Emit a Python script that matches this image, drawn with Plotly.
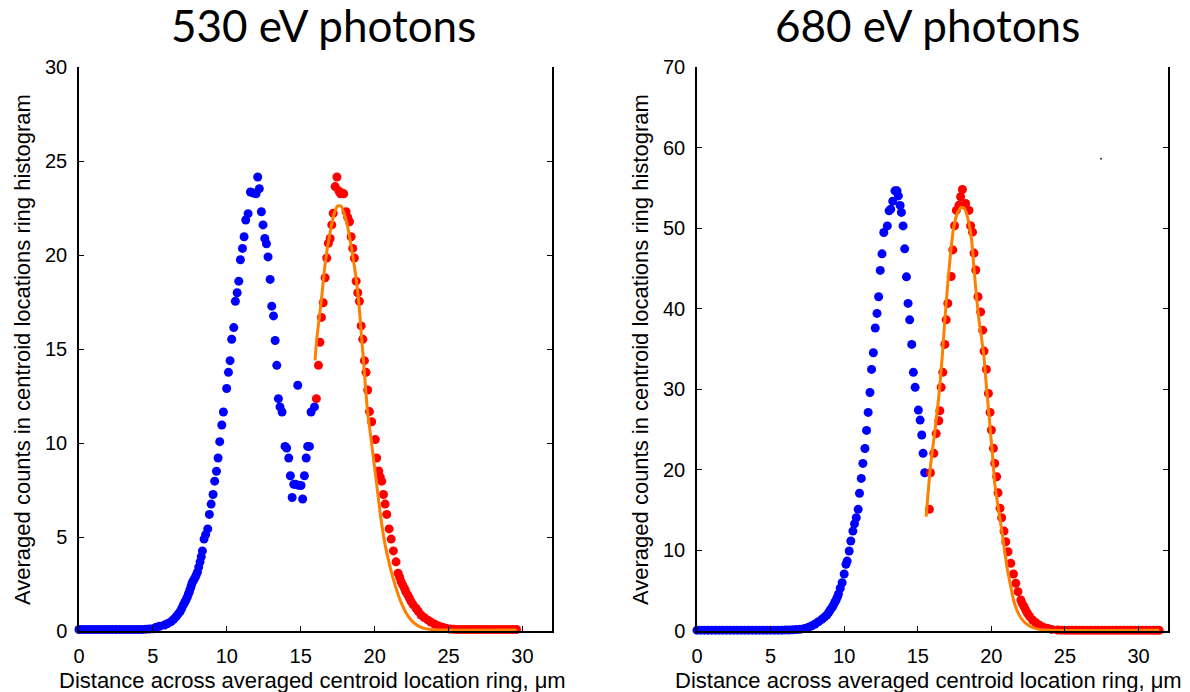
import plotly.graph_objects as go

# ---------------- 530 eV panel ----------------
l_blue_x = [0.0, 0.25, 0.5, 0.75, 1.0, 1.25, 1.5, 1.75, 2.0, 2.25, 2.5, 2.75, 3.0, 3.25, 3.5, 3.75,
            4.0, 4.25, 4.5, 4.75, 5.0, 5.22, 5.45, 5.78, 6.0, 6.23, 6.4, 6.57, 6.7, 6.84, 6.95, 7.06,
            7.15, 7.24, 7.32, 7.40, 7.47, 7.54, 7.6, 7.67, 7.75, 7.83, 7.92, 8.01, 8.1, 8.19, 8.27,
            8.35, 8.46, 8.57, 8.71, 8.82, 8.94, 9.07, 9.18, 9.30, 9.41, 9.52, 9.66, 9.77, 9.99, 10.11,
            10.22, 10.33, 10.47, 10.58, 10.70, 10.81, 10.92, 11.06, 11.17, 11.28, 11.44, 11.60, 11.78,
            11.98, 12.09, 12.20, 12.34, 12.45, 12.57, 12.68, 12.79, 12.93, 13.04, 13.16, 13.27, 13.38,
            13.49, 13.60, 13.74, 13.94, 14.05, 14.19, 14.30, 14.42, 14.53, 14.65, 14.80, 14.86, 15.02,
            15.13, 15.25, 15.37, 15.47, 15.59, 15.70, 15.93]
l_blue_y = [0.08, 0.08, 0.08, 0.08, 0.08, 0.08, 0.08, 0.08, 0.08, 0.08, 0.08, 0.08, 0.08, 0.08, 0.08, 0.08,
            0.08, 0.08, 0.09, 0.1, 0.12, 0.2, 0.25, 0.32, 0.4, 0.5, 0.62, 0.76, 0.9, 1.03, 1.2, 1.39,
            1.52, 1.65, 1.8, 1.97, 2.1, 2.27, 2.42, 2.59, 2.7, 2.81, 2.95, 3.13, 3.4, 3.68, 3.95,
            4.26, 4.89, 5.13, 5.43, 6.2, 6.75, 7.26, 7.97, 8.5, 9.2, 10.07, 10.96, 11.65, 12.9, 13.76,
            14.38, 15.52, 16.14, 17.54, 17.99, 18.61, 19.75, 20.35, 20.97, 21.86, 22.2, 23.35, 23.3,
            23.26, 24.15, 23.53, 22.3, 21.6, 20.88, 20.6, 19.9, 18.7, 17.28, 16.76, 15.45, 14.13,
            12.36, 11.92, 11.65, 9.82, 9.73, 9.2, 8.26, 7.1, 7.8, 7.8, 13.07, 7.75, 7.74,
            7.02, 8.26, 9.2, 9.82, 9.82, 11.65, 11.92]

l_red_x = [16.06, 16.20, 16.30, 16.40, 16.52, 16.65, 16.76, 16.87, 16.99, 17.10, 17.20, 17.33, 17.45,
           17.58, 17.69, 17.80, 17.91, 18.07, 18.18, 18.30, 18.41, 18.52, 18.63, 18.75, 18.86, 18.97,
           19.09, 19.20, 19.31, 19.42, 19.53, 19.65, 19.80, 20.05, 20.14, 20.28, 20.38, 20.48, 20.60,
           20.71, 20.82, 20.98, 21.12, 21.27, 21.45, 21.59, 21.70, 21.79, 21.90, 22.02, 22.10, 22.24,
           22.35, 22.47, 22.60, 22.80, 22.95, 23.14, 23.35, 23.59, 23.80, 24.05, 24.30, 24.60, 24.85,
           25.1, 25.35, 25.6, 25.85, 26.1, 26.35, 26.6, 26.85, 27.1, 27.35, 27.6, 27.85, 28.1, 28.35,
           28.6, 28.85, 29.1, 29.35, 29.6]
l_red_y = [12.36, 14.13, 15.36, 16.68, 17.46, 18.79, 19.84, 20.62, 20.88, 21.6, 22.22, 23.64, 24.15,
           23.4, 23.26, 23.3, 23.26, 22.3, 22.0, 21.77, 20.97, 20.35, 19.84, 18.61, 17.99, 17.54,
           16.23, 15.52, 14.38, 13.76, 12.82, 11.67, 11.13, 10.18, 9.2, 8.51, 8.2, 7.97, 7.26,
           6.75, 6.2, 5.43, 4.89, 4.26, 3.68, 3.07, 2.85, 2.63, 2.45, 2.27, 2.1, 1.92,
           1.75, 1.56, 1.4, 1.21, 1.05, 0.85, 0.72, 0.59, 0.48, 0.37, 0.28, 0.2, 0.14,
           0.1, 0.09, 0.08, 0.08, 0.08, 0.08, 0.08, 0.08, 0.08, 0.08, 0.08, 0.08, 0.08, 0.08,
           0.08, 0.08, 0.08, 0.08, 0.08]

l_fit_x = [15.97, 16.08, 16.27, 16.45, 16.60, 16.83, 17.06, 17.28, 17.50, 17.73, 17.96, 18.18, 18.41,
           18.63, 18.82, 18.97, 19.09, 19.24, 19.38, 19.53, 19.76, 19.99, 20.21, 20.44, 20.73, 21.05,
           21.40, 21.75, 22.10, 22.50, 23.00, 23.60, 24.50, 29.60]
l_fit_y = [14.4, 15.5, 16.75, 18.0, 19.2, 20.5, 21.5, 22.25, 22.6, 22.6, 22.15, 21.5, 20.5,
           19.4, 18.3, 17.1, 15.9, 14.45, 13.0, 11.6, 10.2, 8.75, 7.35, 5.9, 4.5, 3.4,
           2.4, 1.6, 1.0, 0.55, 0.25, 0.1, 0.05, 0.05]

# ---------------- 680 eV panel ----------------
r_blue_x = [0.0, 0.25, 0.5, 0.75, 1.0, 1.25, 1.5, 1.75, 2.0, 2.25, 2.5, 2.75, 3.0, 3.25, 3.5, 3.75,
            4.0, 4.25, 4.5, 4.75, 5.0, 5.25, 5.5, 5.75, 6.0, 6.25, 6.5, 6.75, 7.0, 7.3, 7.57, 7.8,
            8.02, 8.25, 8.48, 8.65, 8.82, 8.95, 9.05, 9.17, 9.27, 9.36, 9.45, 9.53, 9.61, 9.73, 9.86,
            10.0, 10.12, 10.2, 10.34, 10.45, 10.59, 10.7, 10.82, 10.95, 11.04, 11.16, 11.27, 11.41,
            11.52, 11.63, 11.75, 11.86, 11.98, 12.11, 12.23, 12.34, 12.45, 12.57, 12.69, 12.93, 13.05,
            13.16, 13.30, 13.45, 13.59, 13.68, 13.80, 13.89, 14.0, 14.11, 14.23, 14.34, 14.45, 14.59,
            14.7, 14.82, 15.04, 15.16, 15.27, 15.36, 15.47]
r_blue_y = [0.1, 0.1, 0.1, 0.1, 0.1, 0.1, 0.1, 0.1, 0.1, 0.1, 0.1, 0.1, 0.1, 0.1, 0.1, 0.1,
            0.1, 0.1, 0.1, 0.1, 0.1, 0.1, 0.1, 0.1, 0.12, 0.13, 0.15, 0.18, 0.21, 0.32, 0.46, 0.65,
            0.87, 1.15, 1.45, 1.7, 1.99, 2.3, 2.6, 2.9, 3.23, 3.55, 3.85, 4.2, 4.59, 5.3, 5.99,
            7.07, 8.27, 8.68, 9.93, 11.17, 12.4, 13.3, 14.06, 15.1, 17.1, 18.94, 20.8, 22.65,
            24.9, 27.13, 29.6, 32.47, 34.53, 37.6, 39.42, 41.48, 44.75, 46.81, 49.46, 50.28, 52.15,
            52.36, 53.35, 54.63, 54.63, 54.0, 52.82, 51.95, 50.28, 47.43, 43.96, 40.66, 38.62, 35.57,
            32.1, 30.24, 27.42, 26.18, 24.32, 22.05, 19.64]

r_red_x = [15.79, 15.86, 16.09, 16.25, 16.43, 16.50, 16.59, 16.70, 16.84, 16.93, 17.04, 17.27, 17.38,
           17.50, 17.62, 17.80, 17.91, 18.03, 18.25, 18.48, 18.59, 18.72, 18.82, 18.94, 19.09, 19.27,
           19.41, 19.50, 19.66, 19.80, 19.91, 20.00, 20.14, 20.23, 20.36, 20.45, 20.59, 20.70, 20.86,
           20.98, 21.13, 21.32, 21.50, 21.66, 21.81, 22.00, 22.10, 22.22, 22.33, 22.45, 22.60, 22.80,
           23.00, 23.25, 23.50, 23.82, 24.10, 24.50, 24.75, 25.0, 25.25, 25.5, 25.75, 26.0, 26.25,
           26.5, 26.75, 27.0, 27.25, 27.5, 27.75, 28.0, 28.25, 28.5, 28.75, 29.0, 29.25, 29.5, 29.75,
           30.0, 30.25, 30.5, 30.75, 31.0, 31.2, 31.4]
r_red_y = [15.1, 19.64, 22.05, 24.5, 26.1, 27.33, 30.24, 32.1, 35.57, 38.62, 40.66, 44.0, 47.3,
           50.3, 52.2, 52.85, 53.9, 54.8, 53.06, 52.2, 50.3, 49.5, 46.9, 44.8, 41.48, 39.6,
           37.34, 34.74, 32.47, 29.49, 27.13, 24.94, 22.67, 20.8, 19.14, 17.16, 15.22, 14.06, 12.4,
           11.08, 9.84, 8.4, 7.07, 5.92, 4.88, 3.85, 3.4, 3.01, 2.6, 2.2, 1.8, 1.36,
           1.05, 0.74, 0.5, 0.33, 0.2, 0.12, 0.1, 0.08, 0.08, 0.08, 0.08, 0.08, 0.08,
           0.08, 0.08, 0.08, 0.08, 0.08, 0.08, 0.08, 0.08, 0.08, 0.08, 0.08, 0.08, 0.08, 0.08,
           0.08, 0.08, 0.08, 0.08, 0.08, 0.08, 0.08]

r_fit_x = [15.57, 15.86, 16.14, 16.43, 16.66, 16.84, 17.00, 17.23, 17.45, 17.68, 17.95, 18.18, 18.43,
           18.66, 18.81, 18.99, 19.16, 19.32, 19.50, 19.61, 19.77, 19.91, 20.07, 20.23, 20.45, 20.70,
           20.86, 21.09, 21.32, 21.54, 21.88, 22.22, 22.68, 23.25, 24.0, 31.4]
r_fit_y = [14.2, 20.4, 24.5, 29.1, 34.0, 38.6, 42.3, 46.9, 50.2, 51.8, 52.6, 52.4, 51.0,
           48.5, 45.2, 41.5, 38.6, 36.5, 34.0, 31.5, 28.2, 25.3, 22.0, 18.3, 15.5, 12.5,
           10.5, 7.6, 5.5, 3.6, 2.0, 1.15, 0.53, 0.2, 0.1, 0.08]

speck_x = [27.45]
speck_y = [58.6]

titles = ["530 eV photons", "680 eV photons"]
x_title = "Distance across averaged centroid location ring, \u03bcm"
y_title = "Averaged counts in centroid locations ring histogram"
x_ticks = [0, 5, 10, 15, 20, 25, 30]
left_y_ticks = [0, 5, 10, 15, 20, 25, 30]
right_y_ticks = [0, 10, 20, 30, 40, 50, 60, 70]

W, H = 1190, 692
BLUE, RED, ORANGE = "#0000FF", "#FF0000", "#FF8000"
MS = 9

fig = go.Figure()

def dots(x, y, color, xa, ya):
    fig.add_trace(go.Scatter(x=x, y=y, mode="markers", xaxis=xa, yaxis=ya, cliponaxis=False,
                             marker=dict(color=color, size=MS, line=dict(width=0)), showlegend=False,
                             hoverinfo="skip"))

def fit(x, y, xa, ya):
    fig.add_trace(go.Scatter(x=x, y=y, mode="lines", xaxis=xa, yaxis=ya, cliponaxis=False,
                             line=dict(color=ORANGE, width=3, shape="spline", smoothing=0.6),
                             showlegend=False, hoverinfo="skip"))

dots(l_blue_x, l_blue_y, BLUE, "x", "y")
dots(l_red_x, l_red_y, RED, "x", "y")
fit(l_fit_x, l_fit_y, "x", "y")
dots(r_blue_x, r_blue_y, BLUE, "x2", "y2")
dots(r_red_x, r_red_y, RED, "x2", "y2")
fit(r_fit_x, r_fit_y, "x2", "y2")
fig.add_trace(go.Scatter(x=speck_x, y=speck_y, mode="markers", xaxis="x2", yaxis="y2",
                         marker=dict(color="#333333", size=2), showlegend=False, hoverinfo="skip"))

# pixel geometry -> paper domains
L0, L1 = 79, 552
R0, R1 = 697, 1168
TOP, BOT = 67, 631
ydom = [1 - BOT / H, 1 - TOP / H]

tickfont = dict(family="Liberation Sans, Arial, sans-serif", size=20, color="black")
common_x = dict(range=[0, 32], tickvals=x_ticks, ticks="inside", ticklen=5, tickwidth=1,
                tickcolor="black", showline=True, linecolor="black", linewidth=1.5,
                showgrid=False, zeroline=False, tickfont=tickfont, ticklabelstandoff=6,
                automargin=False)
common_y = dict(ticks="inside", ticklen=5, tickwidth=1, tickcolor="black", showline=True,
                linecolor="black", linewidth=1.5, mirror="ticks", showgrid=False, zeroline=False,
                tickfont=tickfont, ticklabelstandoff=6, automargin=False)

fig.update_layout(
    template="none",
    width=W, height=H, margin=dict(l=0, r=0, t=0, b=0, pad=0, autoexpand=False),
    paper_bgcolor="white", plot_bgcolor="white",
    xaxis=dict(domain=[L0 / W, L1 / W], anchor="y", **common_x),
    yaxis=dict(domain=ydom, anchor="x", range=[0, 30], tickvals=left_y_ticks, **common_y),
    xaxis2=dict(domain=[R0 / W, R1 / W], anchor="y2", **common_x),
    yaxis2=dict(domain=ydom, anchor="x2", range=[0, 70], tickvals=right_y_ticks, **common_y),
)

ann = []
title_font = dict(family="Lato, Carlito, sans-serif", size=44, color="black")
label_font = dict(family="Liberation Sans, Arial, sans-serif", size=22, color="black")
for cx, t in [(323, titles[0]), (927, titles[1])]:
    ann.append(dict(text=t, x=cx / W, y=1 - 25 / H, xref="paper", yref="paper",
                    xanchor="center", yanchor="middle", showarrow=False, font=title_font))
for cx in [312, 928]:
    ann.append(dict(text=x_title, x=cx / W, y=1 - 680 / H, xref="paper", yref="paper",
                    xanchor="center", yanchor="middle", showarrow=False, font=label_font))
for cx in [22, 640]:
    ann.append(dict(text=y_title, x=cx / W, y=1 - 350 / H, xref="paper", yref="paper",
                    xanchor="center", yanchor="middle", showarrow=False, textangle=-90,
                    font=label_font))
fig.update_layout(annotations=ann)

fig.write_html("out.html")
